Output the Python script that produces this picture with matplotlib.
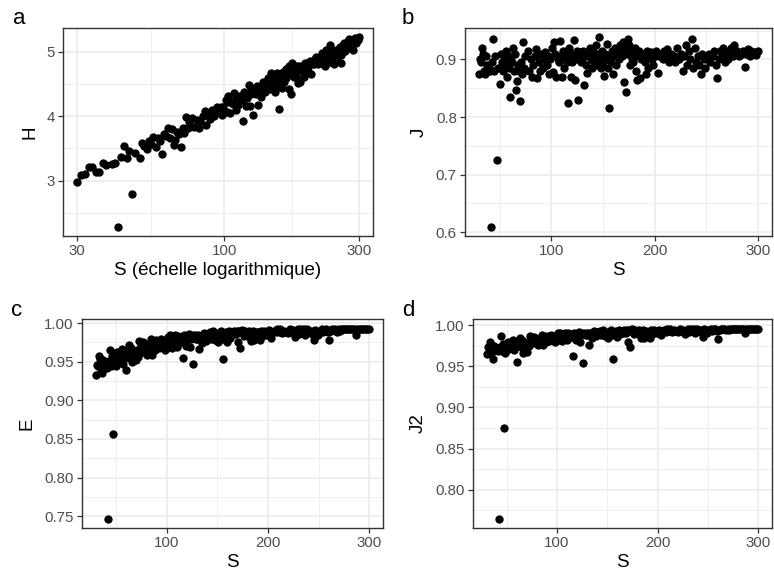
import matplotlib
matplotlib.use('Agg')
import matplotlib.pyplot as plt
from matplotlib.ticker import FixedLocator, NullFormatter, FixedFormatter
import numpy as np

plt.rcParams['font.family'] = ['Liberation Sans', 'DejaVu Sans']

# ---------------- data ----------------
S = [30, 31, 32, 33, 34, 35, 36, 37, 38, 40, 41, 42, 43, 44, 45, 46, 47, 48, 50,
     51, 52, 53, 54, 55, 56, 57, 58, 59, 60, 61, 62, 63, 64, 65, 66, 67, 68, 69, 70, 71, 72, 73, 74, 75,
     77, 78, 80, 81, 82, 84, 85, 86, 88, 89, 90, 92, 93, 94, 96, 97, 98, 99,
     101, 102, 103, 104, 105, 106, 107, 108, 109, 110, 111, 112, 113, 114, 115, 116, 117, 118, 119, 120, 121, 122, 123, 124, 125,
     126, 127, 128, 129, 130, 131, 132, 133, 134, 135, 136, 137, 138, 139, 140, 141, 142, 143, 144, 145, 146, 147, 148, 149, 150,
     151, 152, 153, 154, 155, 156, 157, 158, 159, 160, 161, 162, 163, 164, 165, 166, 167, 168, 169, 170, 171, 172, 173, 174, 175,
     176, 177, 178, 179, 180, 181, 182, 183, 184, 185, 186, 187, 188, 190, 191, 192, 193, 194, 195, 196, 197, 198, 199, 200,
     201, 203, 204, 206, 208, 209, 211, 212, 214, 216, 217, 219, 220, 222, 224, 225, 227, 228, 230, 231, 233, 234, 236, 237, 239, 240, 242, 243, 245, 246, 248, 249,
     251, 253, 254, 256, 257, 259, 260, 262, 263, 265, 266, 268, 270, 271, 273, 274, 276, 277, 279, 280, 282, 284, 285, 287, 288, 290, 292, 293, 295, 297, 298, 300]

H = [2.976, 3.091, 3.102, 3.217, 3.209, 3.128, 3.136, 3.268, 3.238, 3.265, 3.268, 2.29, 3.366, 3.538, 3.350, 3.465, 2.80, 3.426, 3.356,
     3.578, 3.536, 3.494, 3.610, 3.566, 3.683, 3.517, 3.654, 3.609, 3.418, 3.720, 3.694, 3.812, 3.660, 3.798, 3.549, 3.629, 3.756, 3.726, 3.517, 3.815, 3.742, 3.990, 3.809, 3.907,
     3.975, 3.834, 3.944, 3.823, 3.922, 4.010, 4.079, 3.866, 4.007, 3.950, 4.095, 4.002, 4.080, 4.143, 4.062, 4.140, 4.012, 4.136,
     4.246, 4.061, 4.311, 4.226, 4.049, 4.197, 4.182, 4.364, 4.245, 4.089, 4.310, 4.175, 4.254, 4.310, 4.247, 3.922, 4.381, 4.318, 4.158, 4.284, 4.364, 4.482, 4.162, 4.338, 4.418,
     4.014, 4.384, 4.425, 4.350, 4.381, 4.461, 4.175, 4.425, 4.359, 4.302, 4.471, 4.526, 4.434, 4.367, 4.522, 4.429, 4.485, 4.591, 4.423, 4.529, 4.675, 4.491, 4.422, 4.579, 4.485,
     4.375, 4.572, 4.527, 4.669, 4.463, 4.116, 4.576, 4.531, 4.638, 4.441, 4.598, 4.681, 4.534, 4.641, 4.595, 4.729, 4.683, 4.637, 4.771, 4.417, 4.731, 4.339, 4.689, 4.824, 4.778,
     4.601, 4.736, 4.664, 4.642, 4.726, 4.782, 4.580, 4.506, 4.720, 4.776, 4.536, 4.708, 4.765, 4.749, 4.701, 4.600, 4.816, 4.662, 4.772, 4.814, 4.755, 4.706, 4.817, 4.795,
     4.852, 4.660, 4.813, 4.848, 4.804, 4.888, 4.844, 4.918, 4.803, 4.891, 4.842, 4.877, 4.828, 4.971, 4.871, 4.929, 4.774, 4.913, 5.030, 4.843, 4.988, 4.910, 5.109, 4.839, 5.038, 4.905, 4.967, 4.889, 4.813, 5.010, 4.962, 4.883,
     4.973, 5.035, 4.956, 5.018, 5.077, 4.946, 4.827, 5.011, 5.098, 5.050, 5.136, 5.004, 5.094, 5.042, 5.132, 5.164, 5.086, 5.202, 5.124, 5.156, 5.106, 5.141, 5.172, 5.020, 5.153, 5.205, 5.138, 5.197, 5.175, 5.193, 5.173, 5.219]

J = [0.875, 0.90, 0.895, 0.92, 0.91, 0.88, 0.875, 0.905, 0.89, 0.885, 0.88, 0.61, 0.895, 0.935, 0.88, 0.905, 0.725, 0.885, 0.858,
     0.91, 0.895, 0.88, 0.905, 0.89, 0.915, 0.87, 0.90, 0.885, 0.835, 0.905, 0.895, 0.92, 0.88, 0.91, 0.847, 0.863, 0.89, 0.88, 0.828, 0.895, 0.875, 0.93, 0.885, 0.905,
     0.915, 0.88, 0.90, 0.87, 0.89, 0.905, 0.918, 0.868, 0.895, 0.88, 0.91, 0.885, 0.90, 0.912, 0.89, 0.905, 0.875, 0.90,
     0.92, 0.878, 0.93, 0.91, 0.87, 0.90, 0.895, 0.932, 0.905, 0.87, 0.915, 0.885, 0.90, 0.91, 0.895, 0.825, 0.92, 0.905, 0.87, 0.895, 0.91, 0.933, 0.865, 0.90, 0.915,
     0.83, 0.905, 0.912, 0.895, 0.90, 0.915, 0.855, 0.905, 0.89, 0.877, 0.91, 0.92, 0.90, 0.885, 0.915, 0.895, 0.905, 0.925, 0.89, 0.91, 0.938, 0.90, 0.885, 0.915, 0.895,
     0.872, 0.91, 0.90, 0.927, 0.885, 0.815, 0.905, 0.895, 0.915, 0.875, 0.905, 0.92, 0.89, 0.91, 0.90, 0.925, 0.915, 0.905, 0.93, 0.86, 0.92, 0.843, 0.91, 0.935, 0.925,
     0.89, 0.915, 0.90, 0.895, 0.91, 0.92, 0.88, 0.865, 0.905, 0.915, 0.868, 0.90, 0.91, 0.905, 0.895, 0.875, 0.915, 0.885, 0.905, 0.912, 0.90, 0.89, 0.91, 0.905,
     0.915, 0.877, 0.905, 0.91, 0.90, 0.915, 0.905, 0.918, 0.895, 0.91, 0.90, 0.905, 0.895, 0.92, 0.90, 0.91, 0.88, 0.905, 0.925, 0.89, 0.915, 0.90, 0.935, 0.885, 0.92, 0.895, 0.905, 0.89, 0.875, 0.91, 0.90, 0.885,
     0.90, 0.91, 0.895, 0.905, 0.915, 0.89, 0.868, 0.90, 0.915, 0.905, 0.92, 0.895, 0.91, 0.90, 0.915, 0.92, 0.905, 0.925, 0.91, 0.915, 0.905, 0.91, 0.915, 0.887, 0.91, 0.918, 0.905, 0.915, 0.91, 0.912, 0.908, 0.915]

E = [.933, .946, .944, .957, .953, .938, .936, .952, .945, .944, .942, .747, .951, .965, .944, .958, .857, .949, .945,
     .962, .956, .950, .961, .955, .967, .947, .961, .955, .939, .964, .961, .972, .955, .968, .950, .951, .961, .957, .952, .965, .956, .977, .961, .970,
     .975, .962, .970, .959, .967, .974, .979, .959, .971, .965, .978, .968, .974, .980, .971, .977, .965, .976,
     .982, .969, .985, .980, .968, .977, .976, .985, .979, .969, .983, .974, .978, .981, .977, .955, .984, .981, .970, .978, .982, .986, .969, .979, .984,
     .947, .982, .984, .979, .980, .985, .967, .983, .978, .974, .984, .987, .981, .977, .986, .980, .984, .989, .979, .985, .990, .982, .978, .987, .981,
     .975, .986, .983, .990, .979, .953, .985, .982, .988, .976, .986, .990, .981, .987, .984, .990, .989, .986, .990, .975, .990, .968, .988, .991, .990,
     .983, .990, .986, .985, .988, .990, .981, .977, .987, .990, .978, .986, .989, .988, .986, .978, .990, .983, .988, .990, .987, .985, .989, .988,
     .991, .981, .988, .990, .988, .992, .989, .992, .987, .990, .988, .989, .987, .992, .988, .991, .982, .989, .992, .986, .992, .989, .993, .985, .992, .988, .990, .986, .978, .991, .989, .985,
     .990, .992, .989, .991, .993, .988, .978, .990, .993, .991, .993, .989, .992, .990, .993, .993, .992, .993, .993, .993, .992, .993, .993, .985, .993, .993, .992, .993, .993, .993, .992, .992]

J2 = [.965, .973, .972, .979, .976, .968, .959, .975, .972, .970, .969, .765, .974, .987, .969, .977, .875, .966, .970,
      .979, .977, .973, .979, .976, .982, .970, .978, .975, .955, .980, .978, .985, .974, .982, .966, .970, .978, .976, .967, .980, .975, .987, .978, .983,
      .986, .978, .983, .976, .981, .985, .988, .976, .984, .980, .987, .981, .985, .988, .983, .987, .980, .986,
      .990, .982, .991, .988, .981, .987, .986, .991, .988, .982, .990, .985, .987, .989, .987, .963, .991, .989, .982, .987, .990, .992, .980, .988, .991,
      .954, .989, .990, .988, .988, .991, .976, .990, .988, .985, .991, .993, .989, .987, .992, .989, .991, .993, .988, .991, .994, .990, .987, .992, .989,
      .985, .992, .990, .994, .988, .959, .991, .990, .993, .986, .991, .994, .989, .992, .990, .994, .993, .991, .994, .980, .994, .973, .993, .995, .994,
      .989, .994, .991, .991, .993, .994, .988, .984, .992, .994, .985, .991, .993, .992, .991, .984, .994, .989, .993, .994, .992, .991, .993, .992,
      .994, .988, .993, .994, .992, .995, .993, .995, .992, .994, .993, .993, .992, .995, .993, .994, .989, .993, .995, .992, .995, .993, .996, .991, .995, .993, .994, .992, .986, .995, .994, .991,
      .994, .995, .993, .995, .996, .993, .983, .994, .996, .995, .996, .994, .995, .994, .996, .996, .995, .996, .996, .996, .995, .996, .996, .991, .996, .996, .995, .996, .996, .996, .995, .995]

S_ticks = [30, 100, 300]
H_ticks = [3, 4, 5]
lin_S_ticks = [100, 200, 300]
J_ticks = [0.6, 0.7, 0.8, 0.9]
E_ticks = [0.75, 0.80, 0.85, 0.90, 0.95, 1.00]
J2_ticks = [0.80, 0.85, 0.90, 0.95, 1.00]

# ---------------- figure ----------------
W, HP = 774, 571
fig = plt.figure(figsize=(W / 100, HP / 100), dpi=100)
fig.patch.set_facecolor('white')


def px_axes(x0, y0, x1, y1):
    return fig.add_axes([x0 / W, 1 - y1 / HP, (x1 - x0) / W, (y1 - y0) / HP])


def style(ax):
    for sp in ax.spines.values():
        sp.set_color('#333333')
        sp.set_linewidth(1.0)
    ax.tick_params(which='major', length=3.4, width=0.9, color='#333333',
                   labelsize=10.8, labelcolor='#4D4D4D', pad=2.5)
    ax.tick_params(which='minor', length=0)
    ax.grid(which='major', color='#EBEBEB', linewidth=1.1)
    ax.grid(which='minor', color='#EBEBEB', linewidth=0.55)
    ax.set_axisbelow(True)


def expand(vals, f=0.05):
    lo, hi = min(vals), max(vals)
    d = (hi - lo) * f
    return lo - d, hi + d


def mids(ticks):
    return [(a + b) / 2 for a, b in zip(ticks[:-1], ticks[1:])]


PT = dict(s=36, c='black', linewidths=0, zorder=3)
LAB = dict(fontsize=13.5, color='black')

# panel a
ax = px_axes(63, 28, 373, 236)
style(ax)
ax.scatter(S, H, **PT)
ax.set_xscale('log')
lo, hi = expand(np.log10(S))
ax.set_xlim(10 ** lo, 10 ** hi)
ax.set_ylim(*expand(H))
ax.xaxis.set_major_locator(FixedLocator(S_ticks))
ax.xaxis.set_major_formatter(FixedFormatter([str(t) for t in S_ticks]))
ax.xaxis.set_minor_locator(FixedLocator([np.sqrt(a * b) for a, b in zip(S_ticks[:-1], S_ticks[1:])]))
ax.xaxis.set_minor_formatter(NullFormatter())
ax.yaxis.set_major_locator(FixedLocator(H_ticks))
ax.yaxis.set_minor_locator(FixedLocator([2.5, 3.5, 4.5, 5.5]))
ax.set_xlabel('S (échelle logarithmique)', labelpad=3, **LAB)
ax.set_ylabel('H', labelpad=6, **LAB)

# panel b
ax = px_axes(465, 28, 772, 236)
style(ax)
ax.scatter(S, J, **PT)
ax.set_xlim(*expand(S))
ax.set_ylim(*expand(J))
ax.xaxis.set_major_locator(FixedLocator(lin_S_ticks))
ax.xaxis.set_minor_locator(FixedLocator([50, 150, 250]))
ax.yaxis.set_major_locator(FixedLocator(J_ticks))
ax.yaxis.set_major_formatter(FixedFormatter(['0.6', '0.7', '0.8', '0.9']))
ax.yaxis.set_minor_locator(FixedLocator([0.65, 0.75, 0.85, 0.95]))
ax.set_xlabel('S', labelpad=3, **LAB)
ax.set_ylabel('J', labelpad=6, **LAB)

# panel c
ax = px_axes(82, 319, 383, 528)
style(ax)
ax.scatter(S, E, **PT)
ax.set_xlim(*expand(S))
ax.set_ylim(*expand(E))
ax.xaxis.set_major_locator(FixedLocator(lin_S_ticks))
ax.xaxis.set_minor_locator(FixedLocator([50, 150, 250]))
ax.yaxis.set_major_locator(FixedLocator(E_ticks))
ax.yaxis.set_major_formatter(FixedFormatter(['%.2f' % t for t in E_ticks]))
ax.yaxis.set_minor_locator(FixedLocator(mids(E_ticks) + [0.725]))
ax.set_xlabel('S', labelpad=3, **LAB)
ax.set_ylabel('E', labelpad=6, **LAB)

# panel d
ax = px_axes(473, 319, 772, 528)
style(ax)
ax.scatter(S, J2, **PT)
ax.set_xlim(*expand(S))
ax.set_ylim(*expand(J2))
ax.xaxis.set_major_locator(FixedLocator(lin_S_ticks))
ax.xaxis.set_minor_locator(FixedLocator([50, 150, 250]))
ax.yaxis.set_major_locator(FixedLocator(J2_ticks))
ax.yaxis.set_major_formatter(FixedFormatter(['%.2f' % t for t in J2_ticks]))
ax.yaxis.set_minor_locator(FixedLocator(mids(J2_ticks) + [0.775]))
ax.set_xlabel('S', labelpad=3, **LAB)
ax.set_ylabel('J2', labelpad=6, **LAB)

# panel tags
for tag, x, y in [('a', 19, 18), ('b', 408, 18), ('c', 17, 310), ('d', 408, 310)]:
    fig.text(x / W, 1 - y / HP, tag, fontsize=16, ha='center', va='center')

fig.savefig('out.png', dpi=100, facecolor='white')
